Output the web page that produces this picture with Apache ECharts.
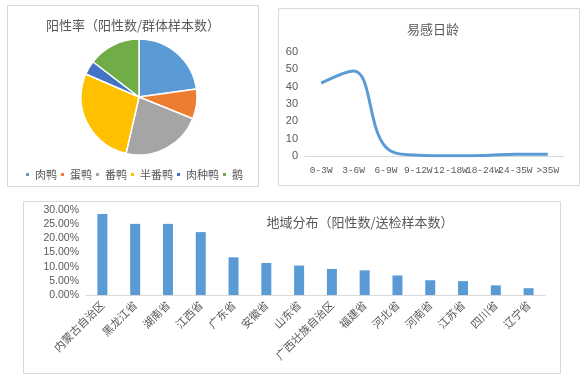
<!DOCTYPE html>
<html>
<head>
<meta charset="utf-8">
<script src="https://cdn.jsdelivr.net/npm/echarts@6/dist/echarts.min.js"></script>
<style>
html,body{margin:0;padding:0;background:#fff;}
#c{width:584px;height:380px;}
</style>
</head>
<body>
<div id="c"></div>
<script>
const pieCategories = ['肉鸭', '蛋鸭', '番鸭', '半番鸭', '肉种鸭', '鹅'];
const pieValues = [22.8, 8.3, 22.5, 27.9, 3.9, 14.6];
const pieColors = ['#5B9BD5', '#ED7D31', '#A5A5A5', '#FFC000', '#4472C4', '#70AD47'];

const ageCategories = ['0-3W', '3-6W', '6-9W', '9-12W', '12-18W', '18-24W', '24-35W', '>35W'];
const ageValues = [42, 49, 5, 0.5, 0.2, 0.3, 1, 1];
const ageTicks = [0, 10, 20, 30, 40, 50, 60];

const regionCategories = ['内蒙古自治区', '黑龙江省', '湖南省', '江西省', '广东省', '安徽省', '山东省', '广西壮族自治区', '福建省', '河北省', '河南省', '江苏省', '四川省', '辽宁省'];
const regionValues = [0.286, 0.251, 0.251, 0.222, 0.133, 0.113, 0.104, 0.092, 0.087, 0.069, 0.052, 0.049, 0.034, 0.024];
const regionTicks = ['0.00%', '5.00%', '10.00%', '15.00%', '20.00%', '25.00%', '30.00%'];

const CJK = '"Noto Sans CJK SC", "Liberation Sans", sans-serif';
const TXT = '#595959';
const BORDER = '#D9D9D9';

const chart = echarts.init(document.getElementById('c'), null, {renderer: 'canvas'});
chart.setOption({
  backgroundColor: '#fff',
  animation: false,
  graphic: [
    {type: 'rect', shape: {x: 7.5, y: 5.5, width: 251, height: 181}, style: {fill: 'none', stroke: BORDER, lineWidth: 1}, z: -1},
    {type: 'rect', shape: {x: 278.5, y: 8.5, width: 301, height: 177}, style: {fill: 'none', stroke: BORDER, lineWidth: 1}, z: -1},
    {type: 'rect', shape: {x: 23.5, y: 201.5, width: 537, height: 172}, style: {fill: 'none', stroke: BORDER, lineWidth: 1}, z: -1}
  ],
  title: [
    {text: '阳性率（阳性数/群体样本数）', left: 128, top: 14, textAlign: 'center',
     textStyle: {fontFamily: CJK, fontSize: 13, fontWeight: 'normal', color: TXT}},
    {text: '易感日龄', left: 428, top: 18, textAlign: 'center',
     textStyle: {fontFamily: CJK, fontSize: 13, fontWeight: 'normal', color: TXT}},
    {text: '地域分布（阳性数/送检样本数）', left: 355, top: 211, textAlign: 'center',
     textStyle: {fontFamily: CJK, fontSize: 13, fontWeight: 'normal', color: TXT}}
  ],
  legend: {
    data: pieCategories,
    left: 19, top: 164,
    icon: 'rect', itemWidth: 5, itemHeight: 5, itemGap: 2,
    textStyle: {fontFamily: CJK, fontSize: 11, color: TXT}
  },
  grid: [
    {left: 305, top: 52, width: 259, height: 104},
    {left: 86, top: 210, width: 459, height: 85}
  ],
  xAxis: [
    {type: 'category', gridIndex: 0, data: ageCategories, boundaryGap: true,
     axisLine: {lineStyle: {color: BORDER, width: 1}}, axisTick: {show: false},
     axisLabel: {interval: 0, margin: 9, fontFamily: '"Liberation Mono", monospace', fontSize: 9.5, color: TXT}},
    {type: 'category', gridIndex: 1, data: regionCategories, boundaryGap: true,
     axisLine: {lineStyle: {color: BORDER, width: 1}}, axisTick: {show: false},
     axisLabel: {interval: 0, rotate: 45, margin: 8, fontFamily: CJK, fontSize: 11, color: TXT}}
  ],
  yAxis: [
    {type: 'value', gridIndex: 0, min: ageTicks[0], max: ageTicks[ageTicks.length - 1], interval: 10,
     splitLine: {show: false}, axisLine: {show: false}, axisTick: {show: false},
     axisLabel: {margin: 7, fontFamily: '"Liberation Sans", sans-serif', fontSize: 11, color: TXT}},
    {type: 'value', gridIndex: 1, min: 0, max: 0.3, interval: 0.05,
     splitLine: {show: false}, axisLine: {show: false}, axisTick: {show: false},
     axisLabel: {margin: 7, fontFamily: '"Liberation Sans", sans-serif', fontSize: 10.5, color: TXT,
       formatter: function (v) { return regionTicks[Math.round(v / 0.05)] || (v * 100).toFixed(2) + '%'; }}}
  ],
  series: [
    {type: 'pie', center: [139, 97], radius: 58, startAngle: 90, clockwise: true,
     label: {show: false}, labelLine: {show: false},
     itemStyle: {borderColor: '#fff', borderWidth: 1.5},
     data: pieCategories.map((n, i) => ({name: n, value: pieValues[i], itemStyle: {color: pieColors[i]}}))},
    {type: 'line', xAxisIndex: 0, yAxisIndex: 0, data: ageValues, smooth: 0.4,
     symbol: 'none', lineStyle: {color: '#5B9BD5', width: 3}},
    {type: 'bar', xAxisIndex: 1, yAxisIndex: 1, data: regionValues, barWidth: 10,
     itemStyle: {color: '#5B9BD5'}}
  ]
});
</script>
</body>
</html>
